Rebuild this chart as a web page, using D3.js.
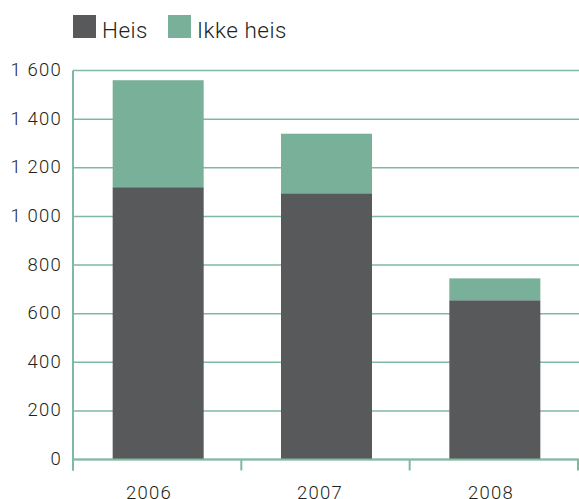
<!DOCTYPE html>
<html><head><meta charset="utf-8">
<script src="https://cdn.jsdelivr.net/npm/d3@7"></script>
<style>
html,body{margin:0;padding:0;background:#fff;}
text{font-family:Roboto,"Liberation Sans",sans-serif;font-weight:300;fill:#231f20;}
</style></head>
<body><svg id="c" width="579" height="499"></svg>
<script>
const years = ["2006","2007","2008"];
const heis = [1120,1095,655];
const ikkeHeis = [440,245,90];
const yTicks = [0,200,400,600,800,1000,1200,1400,1600];
const seriesNames = ["Heis","Ikke heis"];
const colors = ["#58595b","#78b09a"];
const gridColor = "#7fb9a1";

(function(){
const svg = d3.select("#c");
const mLeft = 73, mRight = 579, mTop = 70.5, mBottom = 459.5;

const x = d3.scaleBand().domain(years).range([mLeft, mRight-1]).paddingInner(0).paddingOuter(0);
const xLab = d3.scalePoint().domain(years).range([149, 491]);
const y = d3.scaleLinear().domain([0,1600]).range([mBottom, mTop]);

const fmt = v => d3.format(",")(v).replace(/,/g, " ");

svg.append("g").selectAll("line").data(yTicks).join("line")
  .attr("x1", mLeft).attr("x2", mRight)
  .attr("y1", d=>y(d)).attr("y2", d=>y(d))
  .attr("stroke", gridColor).attr("stroke-width", 1.5);

svg.append("g").selectAll("text").data(yTicks).join("text")
  .attr("x", 62).attr("y", d=>y(d)+5.5)
  .attr("text-anchor","end").attr("font-size", 18.5)
  .attr("letter-spacing", 1.2)
  .text(d=>fmt(d));

const data = years.map((yr,i)=>({year:yr, Heis:heis[i], "Ikke heis":ikkeHeis[i]}));
const stack = d3.stack().keys(seriesNames)(data);
const bw = 91;
svg.append("g").selectAll("g").data(stack).join("g")
  .attr("fill",(d,i)=>colors[i])
  .selectAll("rect").data(d=>d).join("rect")
  .attr("x", d=>x(d.data.year)+x.bandwidth()/2-bw/2+1)
  .attr("width", bw)
  .attr("y", d=>y(d[1]))
  .attr("height", d=>y(d[0])-y(d[1]));

svg.append("line").attr("x1",mLeft).attr("x2",mLeft).attr("y1",mTop).attr("y2",mBottom+11)
  .attr("stroke",gridColor).attr("stroke-width",2);
svg.append("line").attr("x1",mLeft).attr("x2",mRight).attr("y1",mBottom).attr("y2",mBottom)
  .attr("stroke",gridColor).attr("stroke-width",2);
const bounds = years.map(d=>x(d)).concat([x(years[years.length-1])+x.bandwidth()]);
svg.append("g").selectAll("line").data(bounds).join("line")
  .attr("x1",d=>d).attr("x2",d=>d).attr("y1",mBottom).attr("y2",mBottom+11)
  .attr("stroke",gridColor).attr("stroke-width",2);

svg.append("g").selectAll("text").data(years).join("text")
  .attr("x", d=>xLab(d)).attr("y", 498.5)
  .attr("text-anchor","middle").attr("font-size",18.5)
  .attr("letter-spacing", 1.2)
  .text(d=>d);

const lg = svg.append("g");
const lx = [73,168];
seriesNames.forEach((s,i)=>{
  lg.append("rect").attr("x",lx[i]).attr("y",15).attr("width",23).attr("height",23).attr("fill",colors[i]);
  lg.append("text").attr("x",lx[i]+29).attr("y",37.7).attr("font-size",22.5)
    .attr("letter-spacing",0.5).text(s);
});
})();
</script></body></html>
